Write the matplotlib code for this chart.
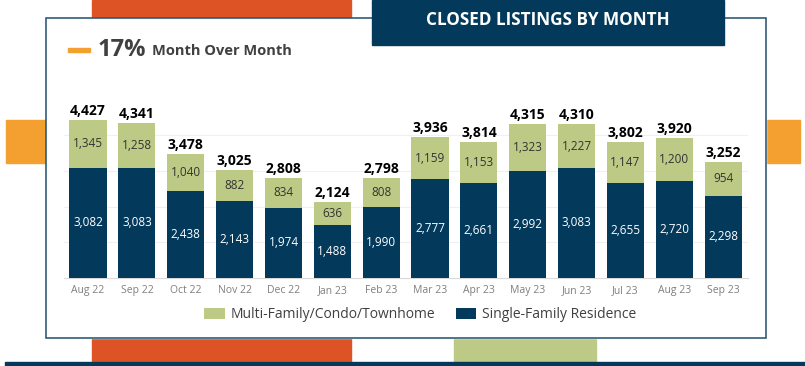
import matplotlib
matplotlib.use("Agg")
import matplotlib.pyplot as plt
from matplotlib.patches import Rectangle
import numpy as np

months = ["Aug 22", "Sep 22", "Oct 22", "Nov 22", "Dec 22", "Jan 23", "Feb 23",
          "Mar 23", "Apr 23", "May 23", "Jun 23", "Jul 23", "Aug 23", "Sep 23"]
single_family = [3082, 3083, 2438, 2143, 1974, 1488, 1990, 2777, 2661, 2992, 3083, 2655, 2720, 2298]
multi_family = [1345, 1258, 1040, 882, 834, 636, 808, 1159, 1153, 1323, 1227, 1147, 1200, 954]

NAVY = "#033a5c"
GREEN = "#bdca85"
RED_ORANGE = "#de5325"
ORANGE = "#f4a031"

plt.rcParams["font.family"] = ["Open Sans", "DejaVu Sans"]

W, H = 805, 366
fig = plt.figure(figsize=(W / 100, H / 100), dpi=100)


def px_rect(x0, y0, x1, y1, color, z=0, **kw):
    # pixel coords measured from top-left
    fig.patches.append(Rectangle((x0 / W, 1 - y1 / H), (x1 - x0) / W, (y1 - y0) / H,
                                 transform=fig.transFigure, color=color, zorder=z, **kw))


# decorative blocks behind the panel
px_rect(92, 0, 351, 362, RED_ORANGE, z=0)
px_rect(454, 300, 596, 362, GREEN, z=0)
px_rect(6, 120, 800, 163, ORANGE, z=0)
px_rect(5, 362, 805, 366, NAVY, z=0)
# white panel with border
px_rect(46, 18, 766, 338, "white", z=1)
fig.patches.append(Rectangle((46 / W, 1 - 338 / H), 720 / W, 320 / H, transform=fig.transFigure,
                             fill=False, edgecolor="#1f4e6b", linewidth=1.1, zorder=2))
# title box
px_rect(372, 0, 724, 45, NAVY, z=3)
fig.text(548 / W, 1 - 20 / H, "CLOSED LISTINGS BY MONTH", color="white", fontsize=12.3,
         fontweight="bold", ha="center", va="center", zorder=4)

# month over month header
px_rect(68, 48, 90, 52, ORANGE, z=3)
fig.text(98 / W, 1 - 50 / H, "17%", fontsize=17, fontweight="bold", color="#404040",
         ha="left", va="center", zorder=4)
fig.text(152 / W, 1 - 51 / H, "Month Over Month", fontsize=10.5, fontweight="bold",
         color="#404040", ha="left", va="center", zorder=4)

# chart axes
x_left, x_right = 63.6, 747.6
y_bottom, y_top = 278, 278 - 5000 * 0.0357
ax = fig.add_axes([x_left / W, 1 - y_bottom / H, (x_right - x_left) / W, (y_bottom - y_top) / H])
ax.set_zorder(5)
ax.patch.set_alpha(0)

x = np.arange(len(months))
sf = np.array(single_family)
mf = np.array(multi_family)
totals = sf + mf

ax.bar(x, sf, width=0.76, color=NAVY, label="Single-Family Residence", zorder=3)
ax.bar(x, mf, width=0.76, bottom=sf, color=GREEN, label="Multi-Family/Condo/Townhome", zorder=3)

for i in range(len(months)):
    ax.text(x[i], sf[i] / 2, f"{sf[i]:,}", ha="center", va="center", color="white", fontsize=8.5, zorder=4)
    ax.text(x[i], sf[i] + mf[i] / 2, f"{mf[i]:,}", ha="center", va="center", color="#333333",
            fontsize=8.5, zorder=4)
    ax.text(x[i], totals[i] + 60, f"{totals[i]:,}", ha="center", va="bottom", color="black",
            fontsize=10, fontweight="bold", zorder=4)

ax.set_xlim(-0.5, len(months) - 0.5)
ax.set_ylim(0, 5000)
ax.set_yticks([1000, 2000, 3000, 4000])
ax.yaxis.grid(True, color="#f0f0f0", linewidth=0.8, zorder=0)
ax.tick_params(axis="y", left=False, labelleft=False)
ax.set_xticks(x)
ax.set_xticklabels(months, fontsize=7.5, color="#7f7f7f")
ax.tick_params(axis="x", length=0, pad=5)
for s in ["top", "right", "left"]:
    ax.spines[s].set_visible(False)
ax.spines["bottom"].set_color("#d9d9d9")

handles, labels = ax.get_legend_handles_labels()
fig.legend(handles[::-1], labels[::-1], loc="center", bbox_to_anchor=(420 / W, 1 - 315 / H),
           ncol=2, frameon=False, fontsize=10, handlelength=1.5, handleheight=0.8,
           columnspacing=1.5, handletextpad=0.4, labelcolor="#404040")

fig.savefig("out.png", dpi=100)
